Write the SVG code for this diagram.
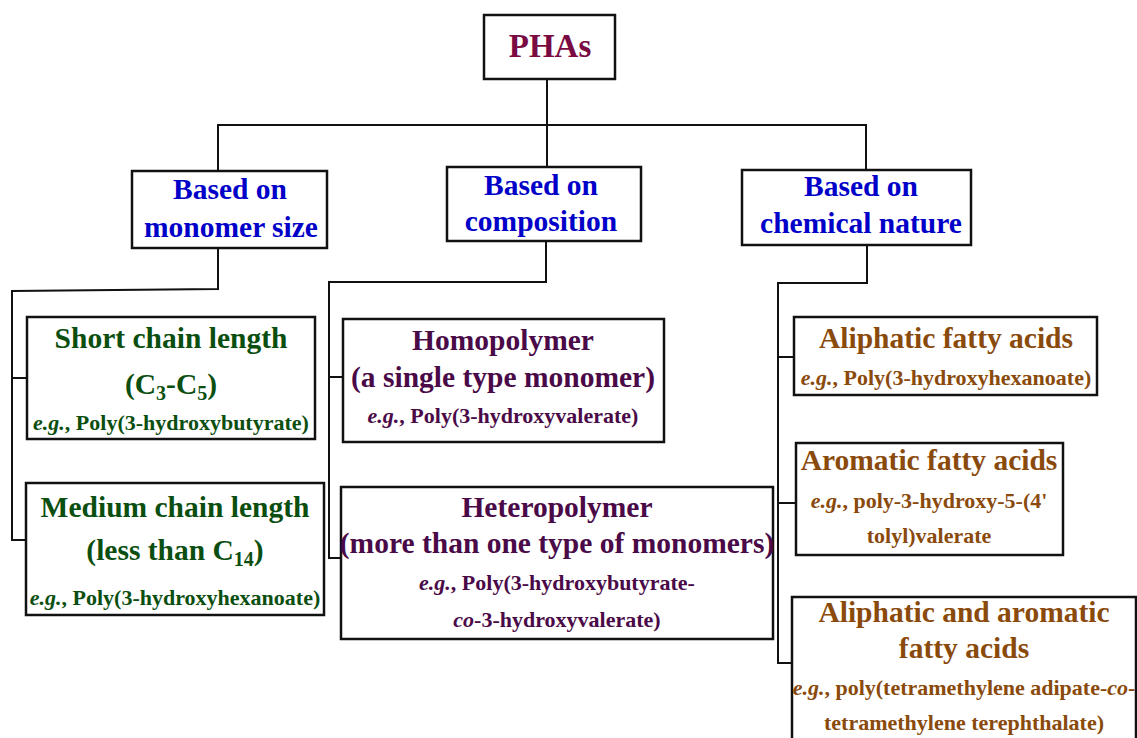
<svg xmlns="http://www.w3.org/2000/svg" width="1137" height="738" viewBox="0 0 1137 738">
<style>
.box{fill:#fff;stroke:#111;stroke-width:2.5}
.ln{fill:none;stroke:#111;stroke-width:2}
text{font-family:"Liberation Serif","Times New Roman",serif;font-weight:bold;text-anchor:middle}
.t{font-size:29.5px}
.s{font-size:22px}
.blue{fill:#0000C8}
.grn{fill:#0B4F10}
.pur{fill:#4A0A48}
.brn{fill:#8A4A0C}
.i{font-style:italic}
.sub{font-size:20px}
</style>
<rect width="1137" height="738" fill="#fff"/>
<g id="connectors">
<polyline class="ln" points="547,80 547,125"/>
<polyline class="ln" points="218,173 218,125 866,125 866,170"/>
<polyline class="ln" points="547,125 547,168"/>
<polyline class="ln" points="218,248 218,289 12,291 12,540 27,540"/>
<polyline class="ln" points="12,378 27,378"/>
<polyline class="ln" points="546,241 546,282 329,282 329,558 341,558"/>
<polyline class="ln" points="329,377 343,377"/>
<polyline class="ln" points="867,245 867,283 778,283 778,663 793,663"/>
<polyline class="ln" points="778,357 794,357"/>
<polyline class="ln" points="778,503 796,503"/>
</g>
<g id="phas">
<rect class="box" x="484" y="15" width="131" height="64"/>
<text x="550" y="57" style="font-size:33px;fill:#7A0A42">PHAs</text>
</g>
<g id="monomer-size">
<rect class="box" x="132" y="171" width="195" height="77"/>
<text class="t blue" x="230" y="199">Based on</text>
<text class="t blue" x="231" y="237">monomer size</text>
</g>
<g id="composition">
<rect class="box" x="447" y="167" width="194" height="74"/>
<text class="t blue" x="541" y="195">Based on</text>
<text class="t blue" x="541" y="231">composition</text>
</g>
<g id="chemical-nature">
<rect class="box" x="742" y="170" width="229" height="75"/>
<text class="t blue" x="861" y="196">Based on</text>
<text class="t blue" x="861" y="233">chemical nature</text>
</g>
<g id="short-chain">
<rect class="box" x="27" y="317" width="288" height="122"/>
<text class="t grn" x="171" y="348">Short chain length</text>
<text class="t grn" x="171" y="394">(C<tspan class="sub" dy="6">3</tspan><tspan dy="-6">-C</tspan><tspan class="sub" dy="6">5</tspan><tspan dy="-6">)</tspan></text>
<text class="s grn" x="171" y="430"><tspan class="i">e.g.</tspan>, Poly(3-hydroxybutyrate)</text>
</g>
<g id="medium-chain">
<rect class="box" x="26" y="483" width="298" height="132"/>
<text class="t grn" x="175" y="517">Medium chain length</text>
<text class="t grn" x="175" y="560">(less than C<tspan class="sub" dy="6">14</tspan><tspan dy="-6">)</tspan></text>
<text class="s grn" x="175" y="605"><tspan class="i">e.g.</tspan>, Poly(3-hydroxyhexanoate)</text>
</g>
<g id="homopolymer">
<rect class="box" x="343" y="319" width="321" height="123"/>
<text class="t pur" x="503" y="350">Homopolymer</text>
<text class="t pur" x="503" y="387">(a single type monomer)</text>
<text class="s pur" x="503" y="423"><tspan class="i">e.g.</tspan>, Poly(3-hydroxyvalerate)</text>
</g>
<g id="heteropolymer">
<rect class="box" x="341" y="487" width="432" height="152"/>
<text class="t pur" x="557" y="517">Heteropolymer</text>
<text class="t pur" x="557" y="553">(more than one type of monomers)</text>
<text class="s pur" x="557" y="590"><tspan class="i">e.g.</tspan>, Poly(3-hydroxybutyrate-</text>
<text class="s pur" x="557" y="627"><tspan class="i">co</tspan>-3-hydroxyvalerate)</text>
</g>
<g id="aliphatic">
<rect class="box" x="794" y="317" width="303" height="78"/>
<text class="t brn" x="946" y="348">Aliphatic fatty acids</text>
<text class="s brn" x="946" y="385"><tspan class="i">e.g.</tspan>, Poly(3-hydroxyhexanoate)</text>
</g>
<g id="aromatic">
<rect class="box" x="796" y="443" width="267" height="112"/>
<text class="t brn" x="929" y="470">Aromatic fatty acids</text>
<text class="s brn" x="929" y="508"><tspan class="i">e.g.</tspan>, poly-3-hydroxy-5-(4'</text>
<text class="s brn" x="929" y="543">tolyl)valerate</text>
</g>
<g id="aliphatic-aromatic">
<rect class="box" x="792" y="597" width="344" height="160"/>
<text class="t brn" x="964" y="622">Aliphatic and aromatic</text>
<text class="t brn" x="964" y="658">fatty acids</text>
<text class="s brn" x="964" y="695"><tspan class="i">e.g.</tspan>, poly(tetramethylene adipate-<tspan class="i">co</tspan>-</text>
<text class="s brn" x="964" y="730">tetramethylene terephthalate)</text>
</g>
</svg>
